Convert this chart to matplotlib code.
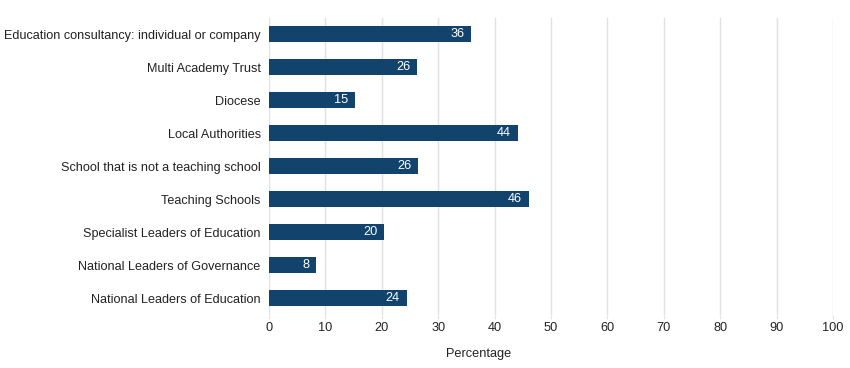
import matplotlib
matplotlib.use("Agg")
import matplotlib.pyplot as plt

plt.rcParams['font.family'] = ['Liberation Sans', 'DejaVu Sans']

categories = [
    "Education consultancy: individual or company",
    "Multi Academy Trust",
    "Diocese",
    "Local Authorities",
    "School that is not a teaching school",
    "Teaching Schools",
    "Specialist Leaders of Education",
    "National Leaders of Governance",
    "National Leaders of Education",
]
values = [35.8, 26.3, 15.2, 44.1, 26.5, 46.1, 20.4, 8.3, 24.4]
xticks = [0, 10, 20, 30, 40, 50, 60, 70, 80, 90, 100]

bar_color = "#12436d"

fig = plt.figure(figsize=(8.5, 3.68), dpi=100)
ax = fig.add_axes([0.3165, 0.145, 0.6635, 0.807])

ypos = list(range(len(categories)))[::-1]
ax.barh(ypos, values, height=0.5, color=bar_color, zorder=3)

for y, v in zip(ypos, values):
    ax.text(v - 1.2, y, f"{round(v):d}", ha="right", va="center",
            color="white", fontsize=9.2, zorder=4)

ax.set_yticks(ypos)
ax.set_yticklabels(categories, fontsize=9.1, color="#222222")
ax.set_xticks(xticks)
ax.set_xticklabels([str(t) for t in xticks], fontsize=9.2, color="#222222")
ax.set_xlim(0, 100)
ax.set_ylim(-0.5, len(categories) - 0.5)

ax.grid(axis="x", color="#e0e0e0", linewidth=1, zorder=0)
for s in ax.spines.values():
    s.set_visible(False)
ax.tick_params(axis="y", length=0, pad=6)
ax.tick_params(axis="x", length=3, color="#e0e0e0", pad=2)

fig.text(479 / 850, 1 - 354 / 368, "Percentage", ha="center", va="center",
         fontsize=9.2, color="#222222")

fig.savefig("out.png", dpi=100)
